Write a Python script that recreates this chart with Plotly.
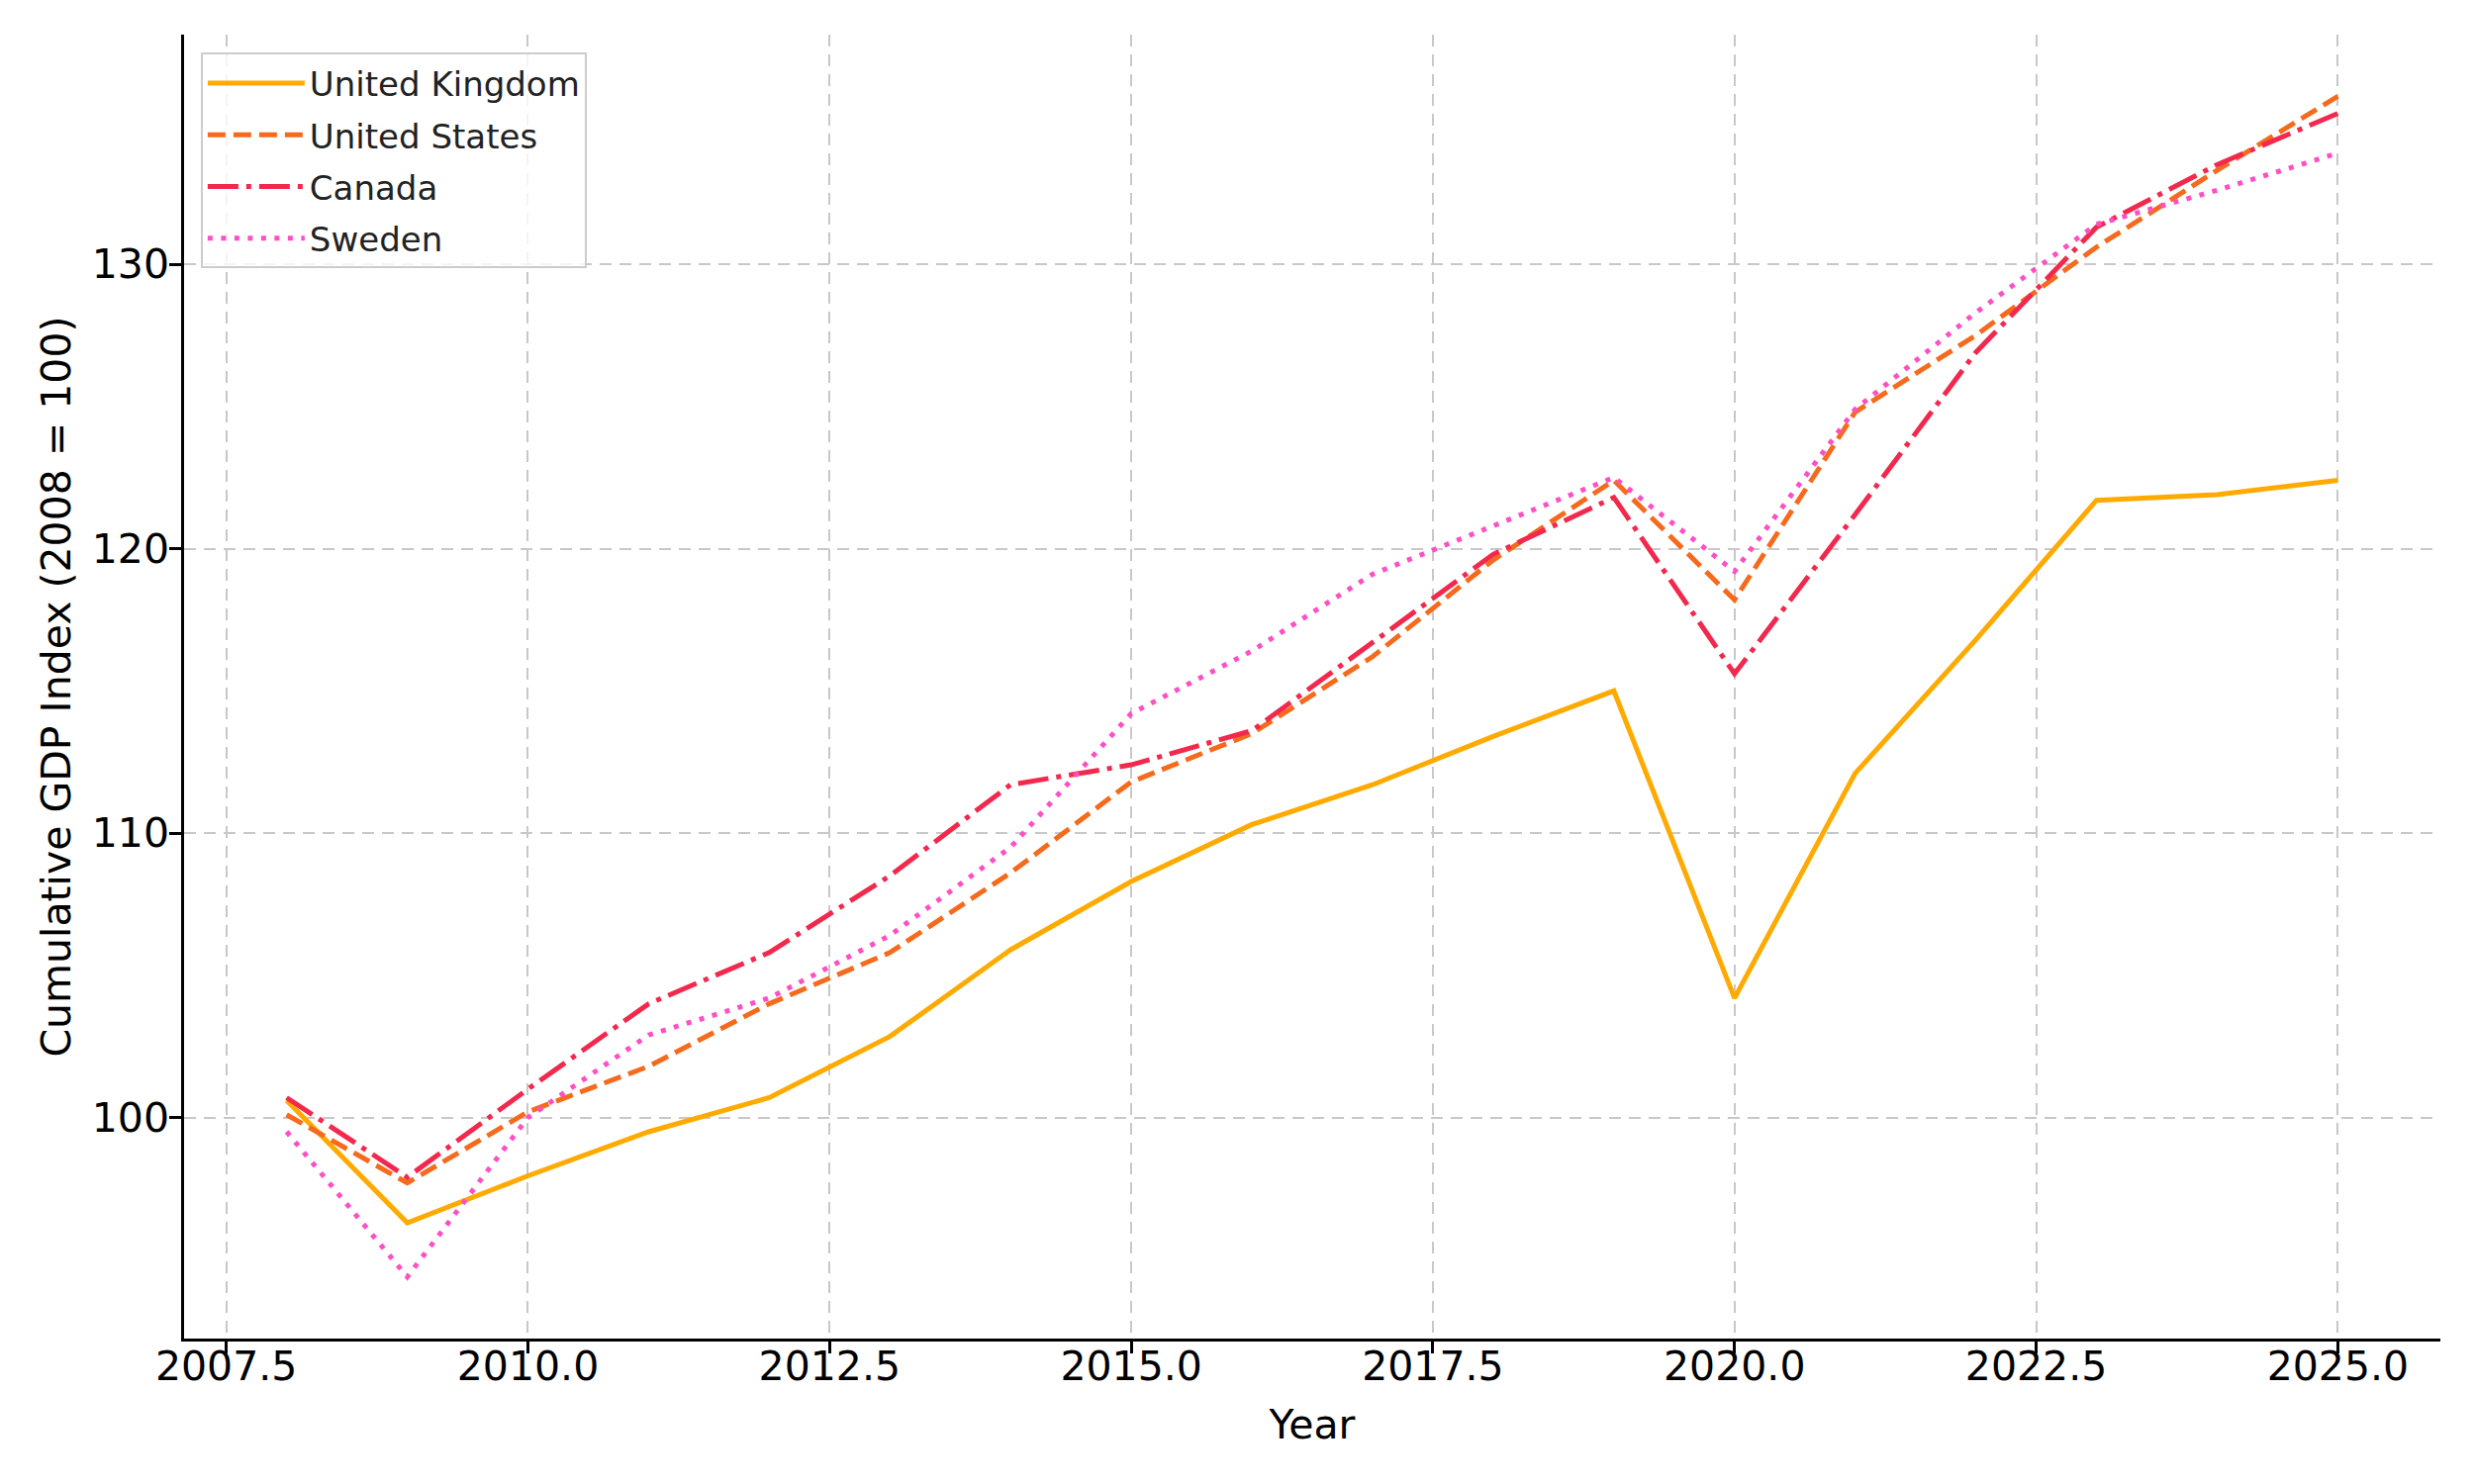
import plotly.graph_objects as go

# %%
years = list(range(2008, 2026))

uk = [100.6, 96.3, 97.95, 99.5, 100.7, 102.85, 105.9, 108.3, 110.3,
      111.7, 113.4, 115.0, 104.2, 112.1, 116.8, 121.7, 121.9, 122.4]
us = [100.1, 97.7, 100.2, 101.8, 104.0, 105.8, 108.6, 111.8, 113.5,
      116.2, 119.6, 122.4, 118.2, 124.8, 127.5, 130.6, 133.3, 135.9]
canada = [100.7, 97.9, 101.0, 104.0, 105.8, 108.5, 111.7, 112.4, 113.6,
          116.7, 119.8, 121.8, 115.6, 121.2, 126.9, 131.3, 133.5, 135.3]
sweden = [99.5, 94.4, 100.0, 102.9, 104.2, 106.4, 109.5, 114.2, 116.4,
          119.1, 120.8, 122.5, 119.2, 124.9, 128.3, 131.4, 132.6, 133.9]

names = ['United Kingdom', 'United States', 'Canada', 'Sweden']
series = [uk, us, canada, sweden]
colors = ['#FFAA00', '#F56A1C', '#F2284D', '#FF4FC4']
dashes = ['solid', '18px,8px', '31px,8px,5px,8px', '5px,8.5px']

xticks = [2007.5, 2010.0, 2012.5, 2015.0, 2017.5, 2020.0, 2022.5, 2025.0]
yticks = [100, 110, 120, 130]

# %%
fig = go.Figure()
for name, vals, col, dash in zip(names, series, colors, dashes):
    fig.add_trace(go.Scatter(
        x=years, y=vals, name=name, mode='lines', legendgroup=name,
        line=dict(color=col, width=5, dash=dash)))

axis_common = dict(
    showline=True, linecolor='black', linewidth=2.5,
    ticks='outside', ticklen=12, tickwidth=2.5, tickcolor='black',
    showgrid=True, gridcolor='#c8c8c8', gridwidth=2, griddash='12px,8px',
    zeroline=False,
    tickfont=dict(size=41, color='black'),
)

fig.update_layout(
    width=2500, height=1500,
    plot_bgcolor='white', paper_bgcolor='white',
    font=dict(family='DejaVu Sans', color='black'),
    margin=dict(l=178, r=42, t=27, b=155),
    showlegend=True,
    legend=dict(
        x=0.0074, y=0.986, xanchor='left', yanchor='top',
        bgcolor='rgba(255,255,255,0.8)', bordercolor='#cccccc', borderwidth=2,
        font=dict(size=34, color='#222222'),
        itemwidth=98, traceorder='grouped', tracegroupgap=5,
    ),
)
fig.update_xaxes(
    range=[2007.15, 2025.85], tickvals=xticks, tickformat='.1f',
    ticklabelstandoff=-22,
    title=dict(text='Year', font=dict(size=41), standoff=22),
    **axis_common)
fig.update_yaxes(
    range=[92.23, 138.07], tickvals=yticks,
    ticklabelstandoff=-8,
    title=dict(text='Cumulative GDP Index (2008 = 100)', font=dict(size=41), standoff=9),
    **axis_common)

fig.write_html("out.html")
